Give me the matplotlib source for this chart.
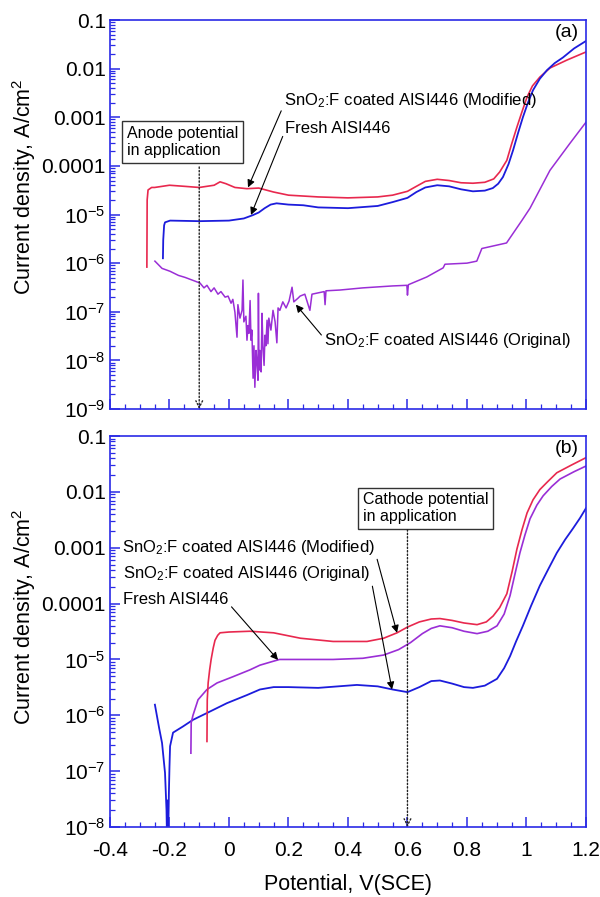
import matplotlib
matplotlib.use('Agg')
import matplotlib.pyplot as plt
import numpy as np

plt.rcParams['font.family'] = ['Liberation Sans', 'DejaVu Sans']
plt.rcParams['mathtext.fontset'] = 'custom'
plt.rcParams['mathtext.rm'] = 'Liberation Sans'
plt.rcParams['mathtext.it'] = 'Liberation Sans'

RED = '#e8284e'
BLUE = '#1c1cdc'
PURPLE = '#9a2ed6'
AXBLUE = '#2a2ae6'

# ---- panel (a) data ----
a_mod_x = [-0.276, -0.275, -0.272, -0.26, -0.25, -0.2, -0.15, -0.1, -0.05, -0.03, -0.01, 0.02,
           0.06, 0.1, 0.15, 0.2, 0.3, 0.4, 0.5, 0.55, 0.6, 0.63, 0.66, 0.7, 0.74, 0.78, 0.82,
           0.86, 0.89, 0.91, 0.934, 0.95, 0.968, 0.985, 1.002, 1.02, 1.045, 1.079, 1.136, 1.2]
a_mod_y = [8.3e-7, 2e-5, 3.2e-5, 3.6e-5, 3.6e-5, 4.0e-5, 3.8e-5, 3.6e-5, 4.0e-5, 4.7e-5, 4.3e-5,
           3.6e-5, 3.4e-5, 3.5e-5, 2.9e-5, 2.5e-5, 2.3e-5, 2.2e-5, 2.3e-5, 2.5e-5, 3.0e-5, 3.8e-5,
           4.8e-5, 5.3e-5, 5.0e-5, 4.5e-5, 4.4e-5, 4.6e-5, 5.4e-5, 7.5e-5, 1.3e-4, 2.8e-4,
           6.3e-4, 1.3e-3, 2.6e-3, 4.4e-3, 6.7e-3, 1.03e-2, 1.5e-2, 2.2e-2]

a_fresh_x = [-0.222, -0.221, -0.218, -0.215, -0.198, -0.1, 0.0, 0.05, 0.08, 0.1, 0.12, 0.14,
             0.16, 0.2, 0.25, 0.3, 0.4, 0.5, 0.55, 0.6, 0.63, 0.66, 0.7, 0.74, 0.78, 0.82, 0.86,
             0.887, 0.905, 0.921, 0.94, 0.955, 0.972, 0.988, 1.005, 1.022, 1.045, 1.069, 1.095,
             1.123, 1.16, 1.2]
a_fresh_y = [1.26e-6, 3e-6, 6.0e-6, 6.9e-6, 7.5e-6, 7.3e-6, 7.5e-6, 8.3e-6, 9.7e-6, 1.1e-5,
             1.35e-5, 1.6e-5, 1.7e-5, 1.6e-5, 1.55e-5, 1.4e-5, 1.35e-5, 1.5e-5, 1.8e-5, 2.2e-5,
             2.9e-5, 3.6e-5, 4.0e-5, 3.8e-5, 3.3e-5, 3.0e-5, 3.1e-5, 3.5e-5, 4.3e-5, 5.9e-5,
             1.1e-4, 2.1e-4, 4.8e-4, 1.0e-3, 2.0e-3, 3.6e-3, 6.2e-3, 9.3e-3, 1.3e-2, 1.7e-2,
             2.6e-2, 3.7e-2]

a_orig_x = [-0.249, -0.225, -0.198, -0.17, -0.148, -0.12, -0.0975, -0.084, -0.074, -0.0605,
            -0.05, -0.037, -0.027, -0.013, -0.003, 0.007, 0.013, 0.02, 0.027, 0.03, 0.037,
            0.044, 0.047, 0.05, 0.057, 0.0605, 0.064, 0.067, 0.071, 0.074, 0.077, 0.081, 0.084,
            0.087, 0.091, 0.094, 0.0975, 0.099, 0.101, 0.104, 0.108, 0.111, 0.114, 0.118, 0.121,
            0.124, 0.128, 0.131, 0.134, 0.141, 0.148, 0.155, 0.161, 0.165, 0.171, 0.181, 0.192,
            0.202, 0.212, 0.218, 0.232, 0.239, 0.255, 0.272, 0.279, 0.32, 0.323, 0.326, 0.373,
            0.45, 0.55, 0.598, 0.6, 0.603, 0.665, 0.72, 0.726, 0.8, 0.833, 0.85, 0.933, 0.985,
            1.012, 1.079, 1.146, 1.2]
a_orig_y = [1.1e-6, 7.8e-7, 6.8e-7, 5.6e-7, 5.1e-7, 4.4e-7, 3.9e-7, 3.1e-7, 3.5e-7, 2.6e-7,
            3.1e-7, 2.3e-7, 2.6e-7, 2.0e-7, 2.1e-7, 1.5e-7, 1.8e-7, 9.8e-8, 3.0e-8, 1.4e-7,
            7.4e-8, 1.07e-7, 4.5e-7, 6.2e-8, 8.1e-8, 2.6e-8, 5.2e-8, 3.6e-8, 1.7e-7, 2.6e-8,
            4.2e-8, 4.3e-9, 2.0e-8, 2.8e-9, 1.6e-8, 9.1e-9, 3.9e-9, 2.4e-7, 6.3e-9, 1.6e-8,
            5.8e-9, 9.3e-8, 2.0e-8, 7.9e-9, 3.3e-8, 2.0e-8, 6.7e-8, 2.2e-8, 7.4e-8, 4.2e-8,
            1.07e-7, 6.2e-8, 2.3e-8, 1.2e-7, 1.07e-7, 1.6e-7, 1.2e-7, 1.66e-7, 3.2e-7, 1.6e-7,
            1.9e-7, 2.1e-7, 2.3e-7, 1.07e-7, 2.3e-7, 2.6e-7, 1.4e-7, 2.7e-7, 2.8e-7, 3.1e-7,
            3.4e-7, 3.5e-7, 2.2e-7, 3.6e-7, 5.2e-7, 8e-7, 9.5e-7, 1.0e-6, 1.1e-6, 2e-6, 2.6e-6,
            7.6e-6, 1.35e-5, 8.1e-5, 2.9e-4, 7.9e-4]

# ---- panel (b) data ----
b_mod_x = [-0.074, -0.073, -0.07, -0.065, -0.06, -0.053, -0.047, -0.038, -0.03, 0.0, 0.07,
           0.15, 0.24, 0.35, 0.464, 0.52, 0.565, 0.6, 0.64, 0.68, 0.709, 0.75, 0.79, 0.834,
           0.865, 0.888, 0.91, 0.934, 0.952, 0.968, 0.985, 1.002, 1.022, 1.045, 1.07, 1.102,
           1.15, 1.2]
b_mod_y = [3.4e-7, 1.9e-6, 3.8e-6, 6.5e-6, 1e-5, 1.6e-5, 2.2e-5, 2.7e-5, 3e-5, 3.1e-5, 3.2e-5,
           3.0e-5, 2.4e-5, 2.1e-5, 2.1e-5, 2.4e-5, 3.0e-5, 3.8e-5, 4.7e-5, 5.3e-5, 5.4e-5,
           5.0e-5, 4.5e-5, 4.2e-5, 4.7e-5, 6.0e-5, 8.5e-5, 1.5e-4, 3.8e-4, 9.5e-4, 2.1e-3,
           4.2e-3, 7.2e-3, 1.1e-2, 1.5e-2, 2.2e-2, 3.0e-2, 4.1e-2]

b_orig_x = [-0.128, -0.127, -0.121, -0.104, -0.074, -0.04, 0.013, 0.07, 0.104, 0.14, 0.17,
            0.24, 0.35, 0.45, 0.52, 0.57, 0.61, 0.65, 0.68, 0.709, 0.75, 0.79, 0.834, 0.87,
            0.901, 0.925, 0.945, 0.962, 0.978, 0.995, 1.012, 1.035, 1.056, 1.085, 1.113, 1.16,
            1.2]
b_orig_y = [2.1e-7, 7.4e-7, 1e-6, 1.9e-6, 2.9e-6, 3.8e-6, 4.9e-6, 6.5e-6, 7.9e-6, 9.0e-6, 1e-5,
            1e-5, 1e-5, 1.05e-5, 1.2e-5, 1.5e-5, 2.0e-5, 2.9e-5, 3.6e-5, 4.0e-5, 3.7e-5, 3.2e-5,
            2.9e-5, 3.2e-5, 4.0e-5, 6.5e-5, 1.4e-4, 3.5e-4, 8.1e-4, 1.7e-3, 3.3e-3, 5.8e-3,
            8.5e-3, 1.25e-2, 1.7e-2, 2.3e-2, 2.9e-2]

b_fresh_x = [-0.249, -0.235, -0.225, -0.215, -0.21, -0.208, -0.206, -0.204, -0.202, -0.2,
             -0.198, -0.188, -0.155, -0.121, -0.074, -0.007, 0.06, 0.104, 0.15, 0.2, 0.3, 0.43,
             0.5, 0.55, 0.6, 0.64, 0.68, 0.709, 0.75, 0.79, 0.82, 0.86, 0.901, 0.925, 0.945,
             0.965, 0.988, 1.015, 1.045, 1.075, 1.102, 1.13, 1.156, 1.18, 1.2]
b_fresh_y = [1.55e-6, 6e-7, 3.2e-7, 9.3e-8, 2e-8, 5e-9, 3e-8, 8e-9, 4e-8, 1.2e-7, 2.8e-7,
             4.9e-7, 6.3e-7, 8.3e-7, 1.1e-6, 1.65e-6, 2.3e-6, 2.9e-6, 3.2e-6, 3.2e-6, 3.1e-6,
             3.5e-6, 3.3e-6, 2.9e-6, 2.6e-6, 3.2e-6, 4.1e-6, 4.2e-6, 3.7e-6, 3.2e-6, 3.1e-6,
             3.4e-6, 4.5e-6, 7e-6, 1.15e-5, 2.1e-5, 4e-5, 9e-5, 2.1e-4, 4.3e-4, 8.1e-4, 1.4e-3,
             2.2e-3, 3.4e-3, 5.1e-3]

a_ticks = [1e-1, 1e-2, 1e-3, 1e-4, 1e-5, 1e-6, 1e-7, 1e-8, 1e-9]
a_labels = ['0.1', '0.01', '0.001', '0.0001', '$10^{-5}$', '$10^{-6}$', '$10^{-7}$',
            '$10^{-8}$', '$10^{-9}$']
b_ticks = a_ticks[:-1]
b_labels = a_labels[:-1]
x_ticks = [-0.4, -0.2, 0, 0.2, 0.4, 0.6, 0.8, 1, 1.2]
x_labels = ['-0.4', '-0.2', '0', '0.2', '0.4', '0.6', '0.8', '1', '1.2']

fig = plt.figure(figsize=(6, 8.97), dpi=100)
ax1 = fig.add_axes([0.1833, 0.544, 0.7933, 0.4337])
ax2 = fig.add_axes([0.1833, 0.078, 0.7933, 0.4359])


def style(ax, ticks, labels, ylim, show_x, label_y):
    ax.set_yscale('log')
    ax.set_ylim(*ylim)
    ax.set_xlim(-0.4, 1.2)
    for s in ax.spines.values():
        s.set_color(AXBLUE)
        s.set_linewidth(1.2)
    ax.set_yticks(ticks)
    ax.set_yticklabels(labels)
    ax.yaxis.set_minor_locator(matplotlib.ticker.LogLocator(base=10, subs=np.arange(2, 10), numticks=20))
    ax.yaxis.set_minor_formatter(matplotlib.ticker.NullFormatter())
    ax.set_xticks(x_ticks)
    ax.xaxis.set_minor_locator(matplotlib.ticker.MultipleLocator(0.05))
    if show_x:
        ax.set_xticklabels(x_labels)
    else:
        ax.set_xticklabels([])
    ax.tick_params(which='both', direction='in', color=AXBLUE, labelsize=15, top=False, right=False)
    ax.tick_params(which='major', length=7, width=1.1)
    ax.tick_params(which='minor', length=3.5, width=0.9)
    ax.tick_params(axis='y', which='major', pad=3)
    ax.tick_params(axis='x', which='major', pad=10)
    ax.set_ylabel('Current density, A/cm$^2$', fontsize=15.5)
    ax.yaxis.set_label_coords(-0.152, label_y)


# panel (a)
ax1.plot(a_orig_x, a_orig_y, color=PURPLE, lw=1.1)
ax1.plot(a_mod_x, a_mod_y, color=RED, lw=1.2)
ax1.plot(a_fresh_x, a_fresh_y, color=BLUE, lw=1.3)
style(ax1, a_ticks, a_labels, (1e-9, 0.1), False, 0.571)

arrow = dict(arrowstyle='-|>', color='black', lw=0.8, mutation_scale=11, shrinkA=0, shrinkB=0)
ax1.annotate('SnO$_2$:F coated AISI446 (Modified)', xy=(0.064, 3.6e-5), xytext=(0.185, 2.2e-3),
             fontsize=12, ha='left', va='center', arrowprops=dict(arrow, relpos=(0, 0.3)))
ax1.annotate('Fresh AISI446', xy=(0.074, 9.8e-6), xytext=(0.19, 6e-4),
             fontsize=12, ha='left', va='center', arrowprops=dict(arrow, relpos=(0, 0.4)))
ax1.annotate('SnO$_2$:F coated AISI446 (Original)', xy=(0.225, 1.4e-7), xytext=(0.32, 2.6e-8),
             fontsize=12, ha='left', va='center', arrowprops=dict(arrow, relpos=(0, 0.6)))
ax1.text(-0.342, 3.1e-4, 'Anode potential\nin application', fontsize=11.5, ha='left', va='center',
         linespacing=1.15, bbox=dict(boxstyle='square,pad=0.3', fc='white', ec='#333333', lw=1))
ax1.annotate('', xy=(-0.1, 1e-9), xytext=(-0.1, 9.5e-5),
             arrowprops=dict(arrowstyle='->', color='#222222', lw=1.0, ls=(0, (1, 1.5)),
                             shrinkA=0, shrinkB=0, mutation_scale=12))
ax1.text(0.985, 0.967, '(a)', transform=ax1.transAxes, fontsize=14, ha='right', va='center')

# panel (b)
ax2.plot(b_fresh_x, b_fresh_y, color=BLUE, lw=1.3)
ax2.plot(b_orig_x, b_orig_y, color=PURPLE, lw=1.2)
ax2.plot(b_mod_x, b_mod_y, color=RED, lw=1.2)
style(ax2, b_ticks, b_labels, (1e-8, 0.1), True, 0.537)
ax2.set_xlabel('Potential, V(SCE)', fontsize=15.5, labelpad=10)

ax2.annotate('SnO$_2$:F coated AISI446 (Modified)', xy=(0.565, 3e-5), xytext=(-0.36, 1.03e-3),
             fontsize=12, ha='left', va='center', arrowprops=dict(arrow, relpos=(1, 0.3)))
ax2.annotate('SnO$_2$:F coated AISI446 (Original)', xy=(0.548, 2.9e-6), xytext=(-0.355, 3.4e-4),
             fontsize=12, ha='left', va='center', arrowprops=dict(arrow, relpos=(1, 0.3)))
ax2.annotate('Fresh AISI446', xy=(0.165, 9.8e-6), xytext=(-0.355, 1.2e-4),
             fontsize=12, ha='left', va='center', arrowprops=dict(arrow, relpos=(1, 0.2)))
ax2.text(0.45, 5.1e-3, 'Cathode potential\nin application', fontsize=11.5, ha='left', va='center',
         linespacing=1.15, bbox=dict(boxstyle='square,pad=0.3', fc='white', ec='#333333', lw=1))
ax2.annotate('', xy=(0.6, 1e-8), xytext=(0.6, 2.1e-3),
             arrowprops=dict(arrowstyle='->', color='#222222', lw=1.0, ls=(0, (1, 1.5)),
                             shrinkA=0, shrinkB=0, mutation_scale=12))
ax2.text(0.985, 0.967, '(b)', transform=ax2.transAxes, fontsize=14, ha='right', va='center')

fig.savefig('out.png', dpi=100)
